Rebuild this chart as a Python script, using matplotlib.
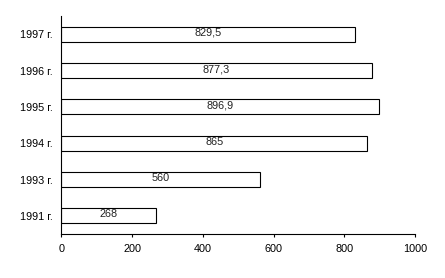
import matplotlib
matplotlib.use("Agg")
import matplotlib.pyplot as plt

# Данные
годы = ["1991 г.", "1993 г.", "1994 г.", "1995 г.", "1996 г.", "1997 г."]
значения = [268, 560, 865, 896.9, 877.3, 829.5]
подписи = ["268", "560", "865", "896,9", "877,3", "829,5"]
деления_x = [0, 200, 400, 600, 800, 1000]

plt.rcParams["font.family"] = ["Liberation Sans", "DejaVu Sans"]
plt.rcParams["font.size"] = 7.8

fig = plt.figure(figsize=(4.45, 2.78), dpi=100)
ax = fig.add_axes([0.138, 0.158, 0.795, 0.784])

pos = range(len(годы))
ax.barh(pos, значения, height=0.41, color="white", edgecolor="black", linewidth=0.8)

for i, (v, s) in enumerate(zip(значения, подписи)):
    ax.text(v / 2, i + 0.04, s, ha="center", va="center", fontsize=7.8, color="#222222")

ax.set_xlim(0, 1000)
ax.set_ylim(-0.5, len(годы) - 0.5)
ax.set_xticks(деления_x)
ax.set_yticks(list(pos))
ax.set_yticklabels(годы)

ax.spines["top"].set_visible(False)
ax.spines["right"].set_visible(False)
ax.spines["left"].set_linewidth(0.8)
ax.spines["bottom"].set_linewidth(0.8)
ax.tick_params(axis="y", length=0, pad=6)
ax.tick_params(axis="x", length=2.5, width=0.8, pad=5)

fig.savefig("out.png", dpi=100)
